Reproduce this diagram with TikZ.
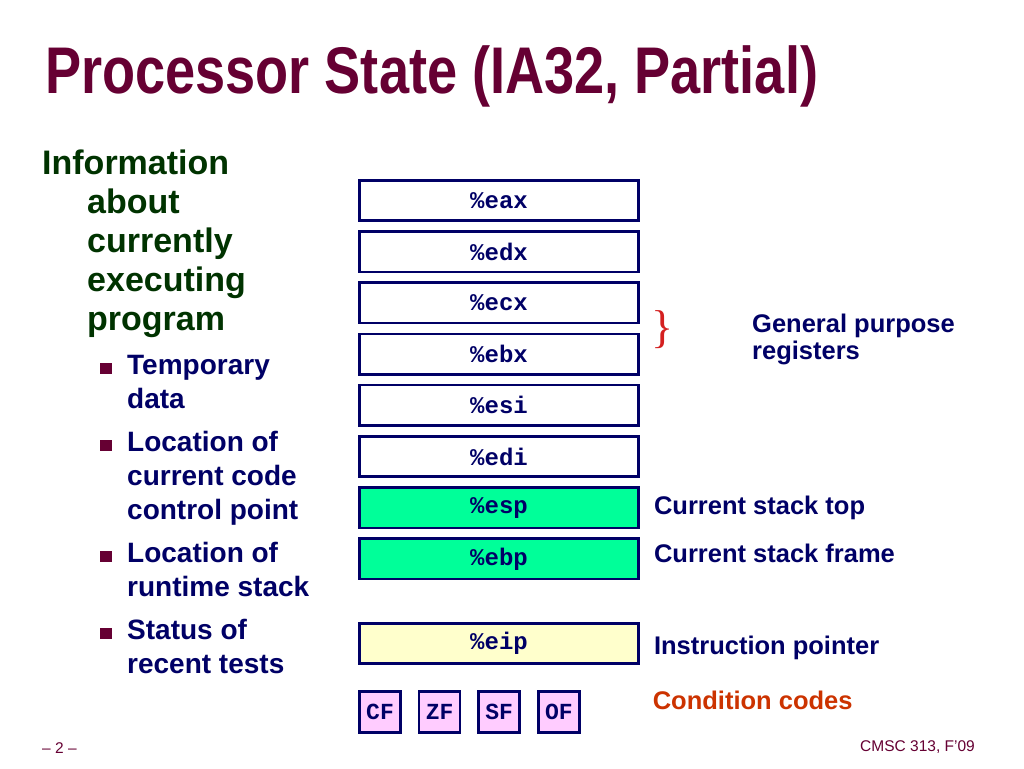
\documentclass[tikz,border=0pt]{standalone}
\usepackage{fontspec}
\setmainfont{Liberation Sans}
\setmonofont{Liberation Mono}
\newfontfamily\titlefont[FakeStretch=0.82]{Liberation Sans}
\newfontfamily\bracefont{Liberation Serif}
\usetikzlibrary{positioning}

\definecolor{maroon}{HTML}{660033}
\definecolor{navy}{HTML}{000066}
\definecolor{leaf}{HTML}{003300}
\definecolor{stackgreen}{HTML}{00FF99}
\definecolor{ipyellow}{HTML}{FFFFCC}
\definecolor{flagpink}{HTML}{FFCCFF}
\definecolor{ccred}{HTML}{CC3300}
\definecolor{bracered}{HTML}{D42020}

\tikzset{
  reg/.style={draw=navy, line width=2.6pt, fill=white, minimum width=279, minimum height=40.4,
    inner sep=0, text=navy, font=\ttfamily\bfseries\fontsize{24}{24}\selectfont},
  flag/.style={reg, fill=flagpink, minimum width=41, minimum height=41,
    font=\ttfamily\bfseries\fontsize{23}{23}\selectfont},
  lbl/.style={inner sep=0, text=navy, font=\bfseries\fontsize{25.5}{27}\selectfont},
  main/.style={inner sep=0, anchor=base west, text=leaf, font=\bfseries\fontsize{34}{39}\selectfont},
  sub/.style={inner sep=0, anchor=base west, text=navy, font=\bfseries\fontsize{28}{34}\selectfont},
  bullet/.style={fill=maroon, inner sep=0, minimum width=12, minimum height=11},
  foot/.style={inner sep=0, anchor=base, text=maroon, font=\fontsize{15.5}{16}\selectfont}
}

\begin{document}
\begin{tikzpicture}[x=1pt, y=1pt]
            \useasboundingbox[fill=white] (0,0) rectangle (1024,-768);

            \def\xr{499}
            \def\ya{-200.5}
            \def\yip{-643.5}

            % title
            \node[inner sep=0, anchor=base west, text=maroon, font=\titlefont\bfseries\fontsize{66}{66}\selectfont]
              (title) at (45,-93) {Processor State (IA32, Partial)};

            % left column
            \node[main] (info) at (42,-174) {Information};
            \node[main] (about) at (87,-213) {about};
            \node[main] (currently) at (87,-252) {currently};
            \node[main] (executing) at (87,-291) {executing};
            \node[main] (program) at (87,-330) {program};

            \node[bullet] (b1) at (106,-368) {};
            \node[sub] (temp) at (127,-374) {Temporary};
            \node[sub] (data) at (127,-408) {data};
            \node[bullet] (b2) at (106,-445) {};
            \node[sub] (loca) at (127,-451) {Location of};
            \node[sub] (code) at (127,-485) {current code};
            \node[sub] (ctrl) at (127,-519) {control point};
            \node[bullet] (b3) at (106,-556) {};
            \node[sub] (locb) at (127,-562) {Location of};
            \node[sub] (rts) at (127,-596) {runtime stack};
            \node[bullet] (b4) at (106,-633) {};
            \node[sub] (status) at (127,-639) {Status of};
            \node[sub] (tests) at (127,-673) {recent tests};

            % registers
            \node[reg] (eax) at (\xr, \ya) {\%eax};
            \node[reg, below=8.2 of eax] (edx) {\%edx};
            \node[reg, below=8.2 of edx] (ecx) {\%ecx};
            \node[reg, below=8.2 of ecx] (ebx) {\%ebx};
            \node[reg, below=8.2 of ebx] (esi) {\%esi};
            \node[reg, below=8.2 of esi] (edi) {\%edi};
            \node[reg, fill=stackgreen, below=8.2 of edi] (esp) {\%esp};
            \node[reg, fill=stackgreen, below=8.2 of esp] (ebp) {\%ebp};
            \node[reg, fill=ipyellow] (eip) at (\xr, \yip) {\%eip};

            \node[flag, below=25 of eip.south west, anchor=north west] (cf) {CF};
            \node[flag, right=16 of cf] (zf) {ZF};
            \node[flag, right=16 of zf] (sf) {SF};
            \node[flag, right=16 of sf] (of) {OF};

            % labels
            \node[inner sep=0, text=bracered, font=\bracefont\fontsize{46}{46}\selectfont]
              (gpr brace) at (663,-330) {\}};
            \node[lbl, anchor=west, align=left] (gpr) at (752,-339) {General purpose\\registers};
            \node[lbl, right=14 of esp] (top) {Current stack top};
            \node[lbl, right=14 of ebp, yshift=6] (frame) {Current stack frame};
            \node[lbl, right=14 of eip, yshift=-4] (ip) {Instruction pointer};
            \node[lbl, text=ccred, right=72 of of, yshift=11] (cc) {Condition codes};

            % footer
            \node[foot, anchor=base west] (page) at (42,-753) {– 2 –};
            \node[foot, anchor=base east] (course) at (975,-751) {CMSC 313, F’09};
        \end{tikzpicture}
\end{document}
